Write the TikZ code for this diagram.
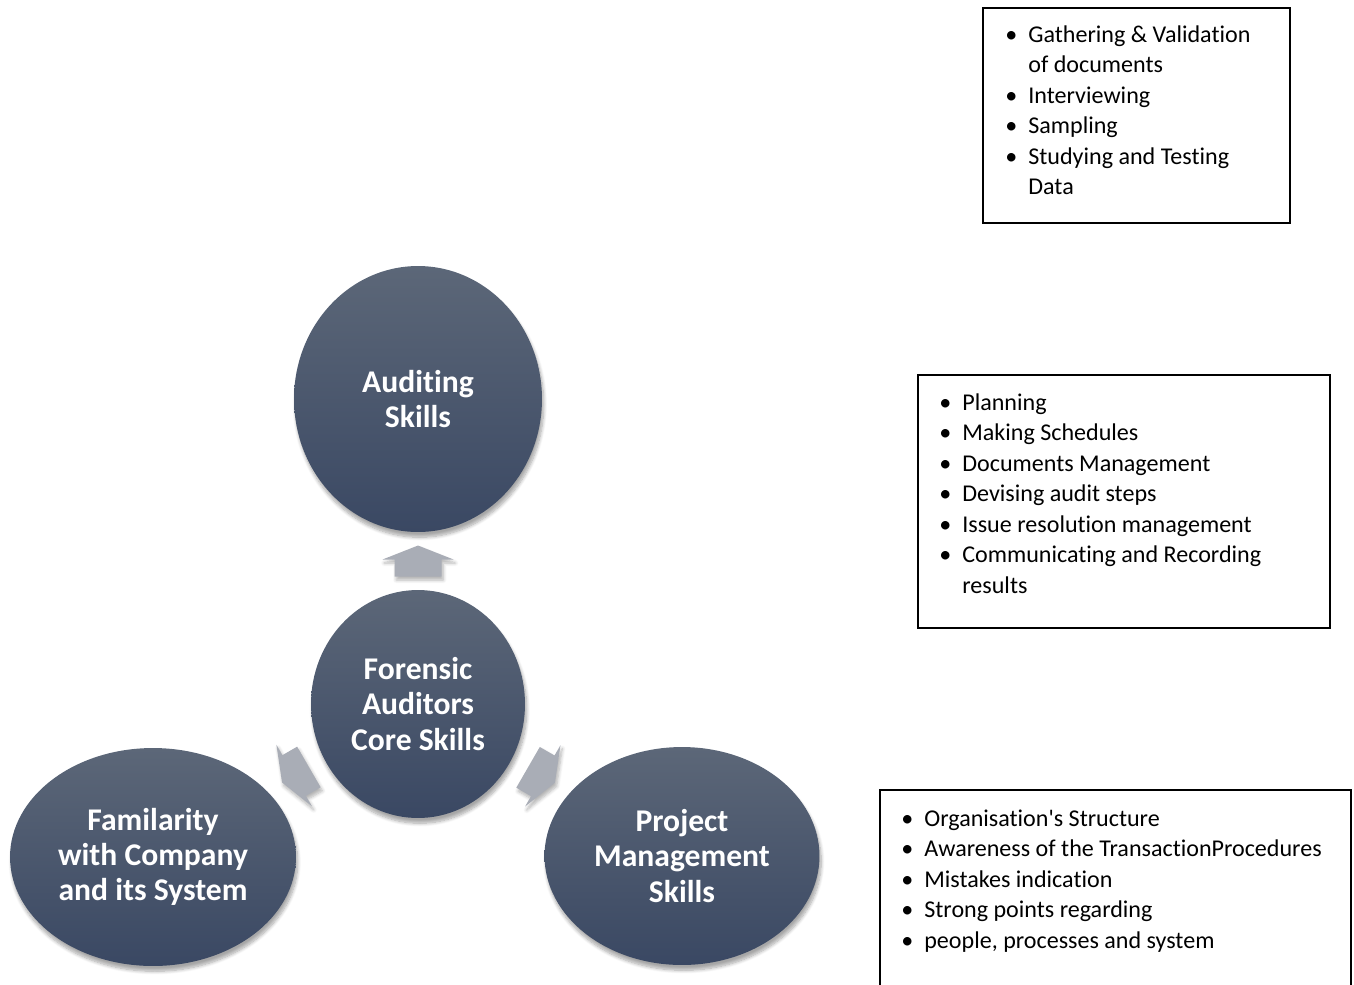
\documentclass[tikz,border=0pt]{standalone}
\usepackage{fontspec}
\setmainfont{Carlito}[RawFeature={-liga;-clig;-dlig;-calt}]
\usetikzlibrary{shapes.geometric,shadows.blur,calc}

\definecolor{skillTop}{HTML}{5C6778}
\definecolor{skillBot}{HTML}{3A4863}
\definecolor{arrowGray}{HTML}{A9ADB6}

\newcommand{\bul}{\makebox[0.46cm][l]{\textbullet}}

\tikzset{
  skill/.style={ellipse, inner sep=0pt, top color=skillTop, bottom color=skillBot,
    text=white, align=center, font=\fontsize{18}{20}\selectfont\bfseries,
    blur shadow={shadow xshift=1pt, shadow yshift=-3pt, shadow opacity=35, shadow blur steps=8}},
  listtext/.style={anchor=base west, inner sep=0pt, font=\fontsize{13.7}{17.4}\selectfont},
  listframe/.style={draw=black, line width=1pt},
  blockarrow/.pic={
    \fill[arrowGray, blur shadow={shadow xshift=1pt, shadow yshift=-2pt, shadow opacity=30, shadow blur steps=6}]
      (0.31cm,0) -- (0.03cm,0.71cm) -- (0.03cm,0.47cm) -- (-0.31cm,0.47cm)
      -- (-0.31cm,-0.47cm) -- (0.03cm,-0.47cm) -- (0.03cm,-0.71cm) -- cycle;
  }
}

\begin{document}
\begin{tikzpicture}[x=0.02cm, y=-0.02cm]
\useasboundingbox (0,0) rectangle (1354,984);

% skill circles
\node[skill, minimum width=4.96cm, minimum height=5.32cm] (audit) at (418,399) {Auditing\\Skills};
\node[skill, minimum width=4.28cm, minimum height=4.56cm] (core) at (418,704) {Forensic\\Auditors\\Core Skills};
\node[skill, minimum width=5.72cm, minimum height=4.36cm] (fam) at (153,857) {Familarity\\with Company\\and its System};
\node[skill, minimum width=5.5cm, minimum height=4.36cm] (proj) at (682,856) {Project\\Management\\Skills};

% block arrows out of the core
\pic[rotate=90] at ($(core.north)!0.5!(audit.south)$) {blockarrow};
\pic[rotate=210] at ($(core.210)!0.5!(fam.30)$) {blockarrow};
\pic[rotate=-30] at ($(core.330)!0.5!(proj.150)$) {blockarrow};

% lists
\draw[listframe] (983,8) rectangle (1290,223);
\node[listtext] (auditlist) at (1005,42) {\begin{tabular}[t]{@{}l@{}l@{}}
\bul & Gathering \& Validation\\
     & of documents\\
\bul & Interviewing\\
\bul & Sampling\\
\bul & Studying and Testing\\
     & Data
\end{tabular}};

\draw[listframe] (918,375) rectangle (1330,628);
\node[listtext] (projlist) at (939,410) {\begin{tabular}[t]{@{}l@{}l@{}}
\bul & Planning\\
\bul & Making Schedules\\
\bul & Documents Management\\
\bul & Devising audit steps\\
\bul & Issue resolution management\\
\bul & Communicating and Recording\\
     & results
\end{tabular}};

\draw[listframe] (880,995) -- (880,790) -- (1351,790) -- (1351,995);
\node[listtext] (famlist) at (901,826) {\begin{tabular}[t]{@{}l@{}l@{}}
\bul & Organisation\textquotesingle s Structure\\
\bul & Awareness of the TransactionProcedures\\
\bul & Mistakes indication\\
\bul & Strong points regarding\\
\bul & people, processes and system
\end{tabular}};

\end{tikzpicture}
\end{document}
